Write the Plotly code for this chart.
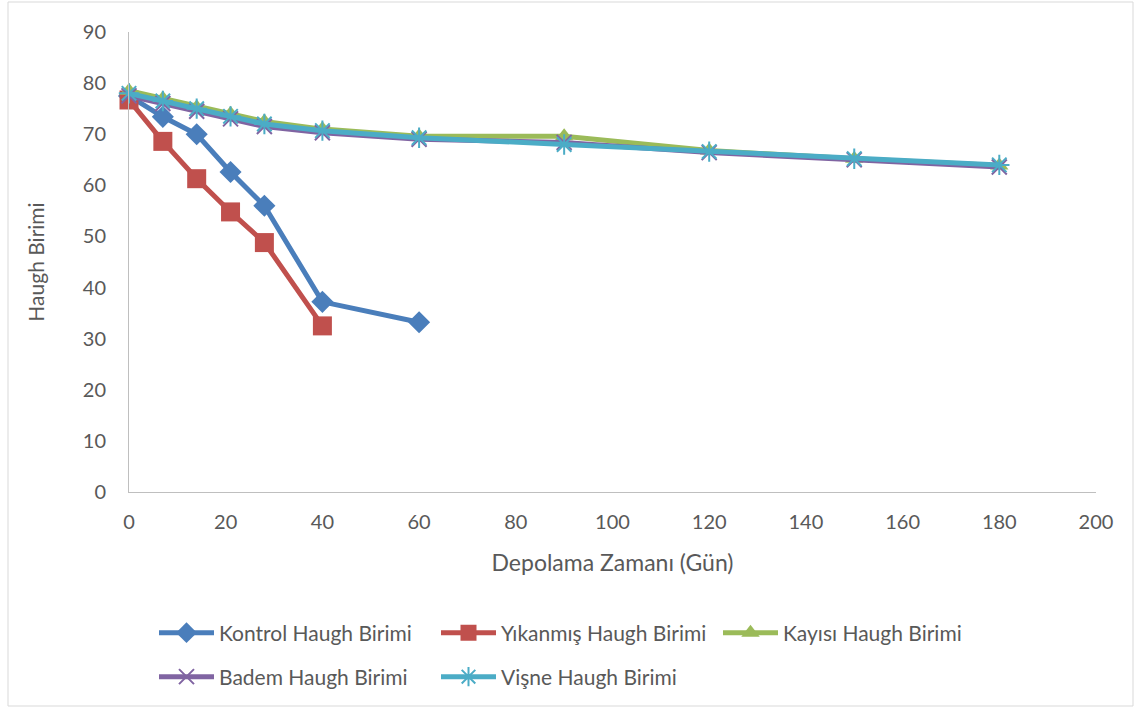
import plotly.graph_objects as go

days_short = [0, 7, 14, 21, 28, 40, 60]
days_long = [0, 7, 14, 21, 28, 40, 60, 90, 120, 150, 180]

kontrol = [77.5, 73.4, 70.0, 62.6, 56.0, 37.2, 33.2]
yikanmis = [76.7, 68.6, 61.3, 54.8, 48.8, 32.5]
kayisi = [78.5, 77.0, 75.3, 74.0, 72.5, 71.0, 69.6, 69.6, 66.8, 65.2, 63.9]
badem = [77.5, 76.0, 74.5, 73.0, 71.5, 70.3, 69.0, 68.4, 66.4, 65.0, 63.6]
visne = [78.0, 76.5, 75.0, 73.5, 72.0, 70.7, 69.3, 68.0, 66.6, 65.2, 64.0]

names = ["Kontrol Haugh Birimi", "Yıkanmış Haugh Birimi", "Kayısı Haugh Birimi",
         "Badem Haugh Birimi", "Vişne Haugh Birimi"]
colors = ["#4A7EBB", "#C0504D", "#9BBB59", "#8064A2", "#4BACC6"]
symbols = ["diamond", "square", "triangle-up", "x-thin", "asterisk"]
msizes = [17, 19, 16, 15, 17]
legends = ["legend", "legend", "legend", "legend2", "legend2"]

series = [
    (days_short, kontrol),
    (days_short[:6], yikanmis),
    (days_long, kayisi),
    (days_long, badem),
    (days_long, visne),
]

fig = go.Figure()
for (xs, ys), n, c, s, ms, lg in zip(series, names, colors, symbols, msizes, legends):
    marker = dict(symbol=s, size=ms, color=c)
    if s in ("x-thin", "asterisk"):
        marker["line"] = dict(color=c, width=2)
    fig.add_trace(go.Scatter(
        x=xs, y=ys, name=n, mode="lines+markers",
        line=dict(color=c, width=5),
        marker=marker, cliponaxis=False, legend=lg,
    ))

font_family = "Lato, 'Open Sans', sans-serif"
legend_common = dict(
    orientation="h", xanchor="left", yanchor="middle",
    xref="container", yref="container",
    font=dict(size=21, color="#595959"),
    entrywidth=212, entrywidthmode="pixels",
    itemwidth=55, bgcolor="rgba(0,0,0,0)",
)
fig.update_layout(
    width=1135, height=708,
    margin=dict(l=129, r=39, t=32, b=216, autoexpand=False),
    paper_bgcolor="white", plot_bgcolor="white",
    font=dict(family=font_family, color="#595959", size=20),
    xaxis=dict(
        range=[0, 200], tickvals=list(range(0, 201, 20)),
        showgrid=False, zeroline=False, showline=True,
        linecolor="#BFBFBF", linewidth=1, ticks="",
        tickfont=dict(size=20, color="#595959"),
        ticklabelstandoff=12,
        title=dict(text="Depolama Zamanı (Gün)", font=dict(size=23, color="#595959"), standoff=22),
    ),
    yaxis=dict(
        range=[0, 90], tickvals=list(range(0, 91, 10)),
        showgrid=False, zeroline=False, showline=True,
        linecolor="#BFBFBF", linewidth=1, ticks="",
        tickfont=dict(size=20, color="#595959"),
        ticklabelstandoff=18,
        title=dict(text="Haugh Birimi", font=dict(size=21, color="#595959"), standoff=32),
    ),
    legend=dict(x=154 / 1135, y=1 - 633 / 708, **legend_common),
    legend2=dict(x=154 / 1135, y=1 - 677 / 708, **legend_common),
    shapes=[dict(type="rect", xref="paper", yref="paper",
                 x0=(8 - 129) / 967, x1=(1133 - 129) / 967,
                 y0=(492 - 706) / 460, y1=(492 - 2) / 460,
                 line=dict(color="#D9D9D9", width=1), fillcolor="rgba(0,0,0,0)",
                 layer="below")],
)

fig.write_html("out.html")
